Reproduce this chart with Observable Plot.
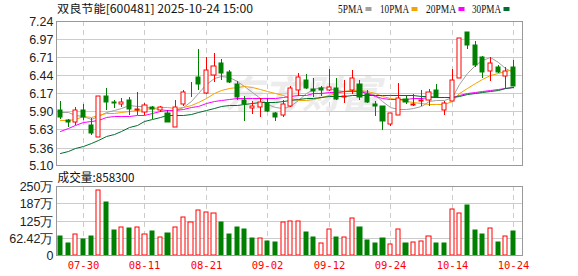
<!DOCTYPE html>
<html><head><meta charset="utf-8">
<script src="https://cdn.jsdelivr.net/npm/d3@7"></script>
<script src="https://cdn.jsdelivr.net/npm/@observablehq/plot@0.6"></script>
<style>
body{margin:0;background:#fff;}
#wrap{position:relative;width:578px;height:276px;overflow:hidden;}
#wrap svg{position:absolute;left:0;}
</style></head><body><div id="wrap"></div>
<script>
// ---------- data ----------
const title = "双良节能[600481] 2025-10-24 15:00";
const volLabel = "成交量:858300";
const maNames = ["5PMA", "10PMA", "20PMA", "30PMA"];
const maColors = ["#a0a0a0", "#f5a300", "#ff00ff", "#006e2e"];
const watermark = "东方财富";

const dates = ["07-25","07-28","07-29","07-30","07-31","08-01","08-04","08-05","08-06","08-07",
  "08-08","08-11","08-12","08-13","08-14","08-15","08-18","08-19","08-20","08-21",
  "08-22","08-25","08-26","08-27","08-28","08-29","09-01","09-02","09-03","09-04",
  "09-05","09-08","09-09","09-10","09-11","09-12","09-15","09-16","09-17","09-18",
  "09-19","09-22","09-23","09-24","09-25","09-26","09-29","09-30","10-09","10-10",
  "10-13","10-14","10-15","10-16","10-17","10-20","10-21","10-22","10-23","10-24"];
const xTickDates = ["07-30","08-11","08-21","09-02","09-12","09-24","10-14","10-24"];

const open  = [5.92,5.77,5.74,5.91,5.70,5.52,6.13,6.03,6.01,6.07, 5.91,5.89,5.96,5.91,5.87,5.67,6.00,6.21,6.41,6.17,
               6.44,6.61,6.48,6.31,6.06,5.95,5.96,6.02,5.87,5.84, 5.98,6.22,6.36,6.23,6.24,6.21,6.25,6.11,6.21,6.31,
               6.15,6.01,5.97,5.71,5.85,6.08,5.99,6.05,6.06,6.21, 5.91,6.05,6.39,7.08,6.88,6.71,6.50,6.56,6.42,6.56];
const high  = [6.05,5.79,5.96,6.01,5.80,6.13,6.24,6.06,6.10,6.11, 6.18,6.02,5.98,5.98,5.91,6.06,6.22,6.34,6.82,6.71,
               6.77,6.67,6.51,6.35,6.12,6.05,6.09,6.09,5.89,6.07, 6.27,6.46,6.45,6.39,6.28,6.52,6.40,6.36,6.51,6.36,
               6.22,6.05,5.98,5.88,6.32,6.14,6.16,6.21,6.23,6.30, 6.05,6.52,6.99,7.08,6.94,6.72,6.71,6.58,6.56,6.66];
const low   = [5.79,5.67,5.70,5.77,5.54,5.52,5.92,5.95,5.96,5.85, 5.85,5.85,5.79,5.89,5.74,5.66,5.98,6.11,6.21,6.16,
               6.34,6.37,6.32,6.07,5.76,5.86,5.82,5.89,5.76,5.81, 5.96,6.13,6.23,6.11,6.13,6.20,6.06,6.02,6.15,6.07,
               6.02,5.83,5.62,5.68,5.84,6.00,5.98,5.98,5.98,6.10, 5.85,6.05,6.39,6.82,6.56,6.39,6.35,6.47,6.23,6.27];
const close = [5.82,5.74,5.92,5.82,5.57,6.13,6.03,6.02,6.04,5.93, 5.93,5.99,5.93,5.96,5.74,5.96,6.19,6.22,6.30,6.51,
               6.57,6.47,6.33,6.11,6.01,5.98,6.04,5.90,5.81,6.01, 6.25,6.41,6.25,6.20,6.21,6.26,6.08,6.12,6.40,6.11,
               6.03,5.97,5.75,5.87,6.10,6.03,6.01,6.06,6.19,6.11, 6.02,6.36,6.99,6.89,6.58,6.48,6.62,6.48,6.50,6.27];

// volume in 万 (10,000 shares); volUp: 1 = red (up), 0 = green (down)
const volume = [69.8,44,76,58.8,69.8,234,191,92,102,99, 102,76,88,65,81,102,139,118,164,154,
                151,118,77,103,96,62.5,61,51,48,118, 125,125,82,66,44,96,66,66,135,103,
                55,44,62.5,39,94,44,47,50,69,44, 44,168,151,180,92,77,98,48,69,85.83];
const volUp = [0,0,1,0,0,1,0,0,1,0, 1,1,0,1,0,1,1,1,1,1, 1,0,0,0,0,0,1,0,0,1,
               1,1,0,0,1,1,0,1,1,0, 0,0,0,1,1,0,1,1,1,0, 0,1,1,0,0,0,1,0,1,0];

const ma5  = [5.889,5.883,5.848,5.833,5.784,5.823,5.883,5.913,5.949,5.998, 5.972,5.972,5.949,5.934,5.923,5.923,5.963,6.047,6.163,6.297,
              6.397,6.421,6.412,6.347,6.272,6.182,6.098,6.013,5.963,5.949, 5.983,6.073,6.173,6.233,6.263,6.248,6.222,6.207,6.212,6.222,
              6.182,6.133,6.047,5.963,5.934,5.934,5.949,5.983,6.047,6.073, 6.073,6.113,6.297,6.472,6.582,6.661,6.712,6.631,6.547,6.481];
const ma10 = [5.773,5.773,5.788,5.823,5.814,5.848,5.874,5.874,5.883,5.898, 5.913,5.934,5.949,5.957,5.963,5.949,5.963,5.998,6.032,6.098,
              6.163,6.212,6.248,6.263,6.272,6.263,6.233,6.197,6.163,6.133, 6.098,6.073,6.073,6.083,6.113,6.133,6.163,6.197,6.212,6.212,
              6.197,6.173,6.122,6.098,6.083,6.047,6.032,6.023,6.013,6.008, 6.008,6.047,6.163,6.248,6.323,6.372,6.432,6.472,6.496,6.522];
const ma20 = [5.609,5.649,5.699,5.733,5.748,5.773,5.814,5.823,5.823,5.833, 5.838,5.848,5.874,5.898,5.913,5.923,5.934,5.963,5.983,6.023,
              6.047,6.073,6.088,6.098,6.103,6.098,6.098,6.098,6.103,6.113, 6.122,6.133,6.143,6.163,6.173,6.182,6.192,6.197,6.197,6.197,
              6.163,6.122,6.098,6.083,6.083,6.088,6.098,6.098,6.107,6.107, 6.107,6.113,6.137,6.163,6.182,6.197,6.212,6.233,6.248,6.252];
const ma30 = [5.275,5.310,5.350,5.384,5.425,5.474,5.524,5.564,5.609,5.658, 5.699,5.748,5.788,5.808,5.838,5.843,5.848,5.863,5.883,5.913,
              5.949,5.972,5.987,5.998,6.013,6.023,6.032,6.038,6.038,6.053, 6.068,6.083,6.092,6.103,6.113,6.122,6.122,6.122,6.133,6.133,
              6.133,6.133,6.137,6.137,6.137,6.137,6.133,6.122,6.122,6.113, 6.107,6.107,6.122,6.148,6.163,6.182,6.197,6.222,6.237,6.252];

const priceTicks = [5.10,5.36,5.63,5.90,6.17,6.44,6.71,6.97,7.24];
const volTicks = [0, 62.42, 125, 187.5, 250];
const volTickLabels = ["0", "62.42万", "125万", "187万", "250万"];

// ---------- build ----------
const RED = "#ff0000", GREEN = "#008000";
const N = dates.length;
const idx = d3.range(N);
const tickIdx = xTickDates.map(d => dates.indexOf(d));
const candles = idx.map(i => ({i, o: open[i], h: high[i], l: low[i], c: close[i],
  top: Math.max(open[i], close[i]), bot: Math.min(open[i], close[i]), up: close[i] >= open[i]}));
const vols = idx.map(i => ({i, v: volume[i], up: volUp[i] === 1}));
const mas = [ma5, ma10, ma20, ma30];
const xDomain = [-0.52, 60.17];
const hw = 0.27;
const font = "'Liberation Sans', Arial, sans-serif";

const wrap = d3.select("#wrap");

// background layer: watermark, title, legend, volume label
const bg = wrap.append("svg").attr("width", 578).attr("height", 276).style("top", "0px");
bg.append("text").text(watermark).attr("x", 224).attr("y", 108)
  .attr("font-family", "'Noto Sans CJK SC'").attr("font-size", 38).attr("font-weight", "bold")
  .attr("font-style", "italic").attr("fill", "#ececec")
  .attr("textLength", 156).attr("lengthAdjust", "spacingAndGlyphs");
bg.append("text").text(title).attr("x", 57).attr("y", 13)
  .attr("font-family", "'Noto Sans CJK SC'").attr("font-size", 11.5).attr("fill", "#111")
  .attr("textLength", 196).attr("lengthAdjust", "spacingAndGlyphs");
const legX = [338, 380, 426, 472], legW = [25, 29, 30, 29];
maNames.forEach((n, k) => {
  bg.append("text").text(n).attr("x", legX[k]).attr("y", 12.7)
    .attr("font-family", "'Liberation Serif', serif").attr("font-size", 11.5).attr("fill", "#111")
    .attr("textLength", legW[k]).attr("lengthAdjust", "spacingAndGlyphs");
  bg.append("rect").attr("x", legX[k] + legW[k] + 2.5).attr("y", 7).attr("width", 6).attr("height", 4)
    .attr("fill", maColors[k]);
});
bg.append("text").text(volLabel).attr("x", 57.5).attr("y", 181.5)
  .attr("font-family", "'Noto Sans CJK SC'").attr("font-size", 12).attr("fill", "#111")
  .attr("textLength", 77).attr("lengthAdjust", "spacingAndGlyphs");

// price panel
const price = Plot.plot({
  width: 578, height: 180,
  marginTop: 21, marginBottom: 15, marginLeft: 56, marginRight: 56,
  style: {background: "transparent", fontFamily: font, fontSize: "12.5px"},
  x: {type: "linear", domain: xDomain, round: true, axis: null, label: null},
  y: {domain: [5.10, 7.24], round: true, label: null},
  marks: [
    Plot.ruleY(priceTicks, {stroke: "#cccccc"}),
    Plot.ruleX(tickIdx, {stroke: "#cccccc", strokeDasharray: "5,4"}),
    ...mas.map((m, k) => Plot.line(idx, {x: i => i, y: i => m[i], stroke: maColors[k], strokeWidth: 1})),
    Plot.ruleX(candles.filter(d => d.up), {x: "i", y1: "l", y2: "h", stroke: RED}),
    Plot.ruleX(candles.filter(d => !d.up), {x: "i", y1: "l", y2: "h", stroke: GREEN}),
    Plot.rect(candles.filter(d => d.up), {x1: d => d.i - hw, x2: d => d.i + hw, y1: "bot", y2: "top", fill: "#fff", stroke: RED}),
    Plot.rect(candles.filter(d => !d.up), {x1: d => d.i - hw, x2: d => d.i + hw, y1: "bot", y2: "top", fill: GREEN, stroke: GREEN}),
    Plot.frame({stroke: "#999999"}),
    Plot.axisY({ticks: priceTicks, tickFormat: d => d.toFixed(2), tickSize: 0, tickPadding: 3,
      fontSize: 12.5, color: "#222", label: null})
  ]
});
price.style.top = "0px";
wrap.node().appendChild(price);

// volume panel
const vol = Plot.plot({
  width: 578, height: 106,
  marginTop: 16, marginBottom: 21, marginLeft: 56, marginRight: 56,
  style: {background: "transparent", fontFamily: font, fontSize: "12.5px"},
  x: {type: "linear", domain: xDomain, round: true, label: null},
  y: {domain: [0, 250], round: true, label: null},
  marks: [
    Plot.ruleY(volTicks, {stroke: "#cccccc"}),
    Plot.ruleX(tickIdx, {stroke: "#cccccc", strokeDasharray: "5,4"}),
    Plot.rect(vols.filter(d => d.up), {x1: d => d.i - hw, x2: d => d.i + hw, y1: 0, y2: "v", fill: "#fff", stroke: RED}),
    Plot.rect(vols.filter(d => !d.up), {x1: d => d.i - hw, x2: d => d.i + hw, y1: 0, y2: "v", fill: GREEN, stroke: GREEN}),
    Plot.frame({stroke: "#999999"}),
    Plot.axisY({ticks: volTicks, tickFormat: v => volTickLabels[volTicks.indexOf(v)], tickSize: 0, tickPadding: 3,
      fontSize: 12.5, color: "#222", label: null}),
    Plot.axisX({ticks: tickIdx, tickFormat: i => dates[i], tickSize: 0, tickPadding: 6,
      fontSize: 10.5, fontFamily: "'DejaVu Sans Mono', monospace", color: RED, label: null})
  ]
});
vol.style.top = "170px";
wrap.node().appendChild(vol);
</script></body></html>
